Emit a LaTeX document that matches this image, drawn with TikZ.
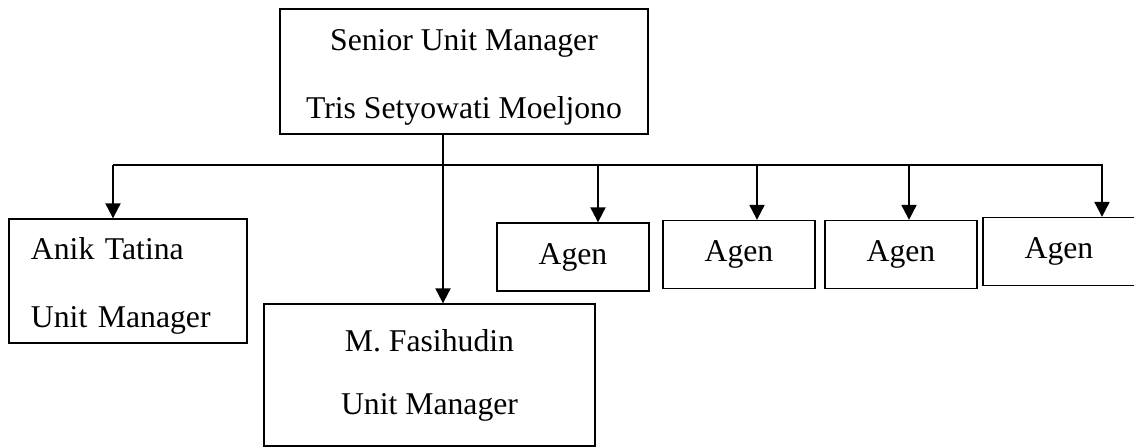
\documentclass[tikz,border=0pt]{standalone}
\usepackage{fontspec}
\setmainfont{Liberation Serif}
\usetikzlibrary{positioning,arrows.meta}

\begin{document}
\begin{tikzpicture}[x=0.5pt,y=-0.5pt,
    box/.style={draw,line width=0.65pt,inner sep=0pt,font=\fontsize{15.85}{34}\selectfont},
    link/.style={line width=1pt},
    arr/.style={link,-{Triangle[length=7.5pt,width=7.5pt]}}]
    \useasboundingbox (0,0) rectangle (1134,448);
    % senior unit manager
    \node[box,minimum width=184pt,minimum height=62.5pt,align=center] (sum) at (464,71.5) {\rule{0pt}{16pt}Senior Unit Manager\\Tris Setyowati Moeljono};
    % unit managers
    \node[box,text width=97pt,inner xsep=11pt,minimum height=62pt,align=left] (anik) at (128,281) {\rule{0pt}{16pt}Anik Tatina\\Unit Manager};
    \node[box,minimum width=165.5pt,minimum height=71pt,align=center] (fas) at (429.5,375) {M. Fasihudin\\[-2.5pt]Unit Manager};
    % agents
    \foreach \n/\x/\y/\ax in {1/573/257/598,2/739/254.5/757,3/901/254.5/909,4/1059/251.5/1102}
    {
      \node[box,minimum width=76pt,minimum height=34pt] (agen\n) at (\x,\y) {Agen};
      \coordinate (drop\n) at (\ax,165);
    }
    % bus line and arrows
    \coordinate (busL) at (113,165);
    \coordinate (stem) at (443,165);
    \draw[arr] (busL) -- (busL |- anik.north);
    \draw[arr] (busL) -- (drop4) -- (drop4 |- agen4.north);
    \draw[arr] (stem |- sum.south) -- (stem |- fas.north);
    \foreach \n in {1,2,3}
      \draw[arr] (drop\n) -- (drop\n |- agen\n.north);
  \end{tikzpicture}
\end{document}
